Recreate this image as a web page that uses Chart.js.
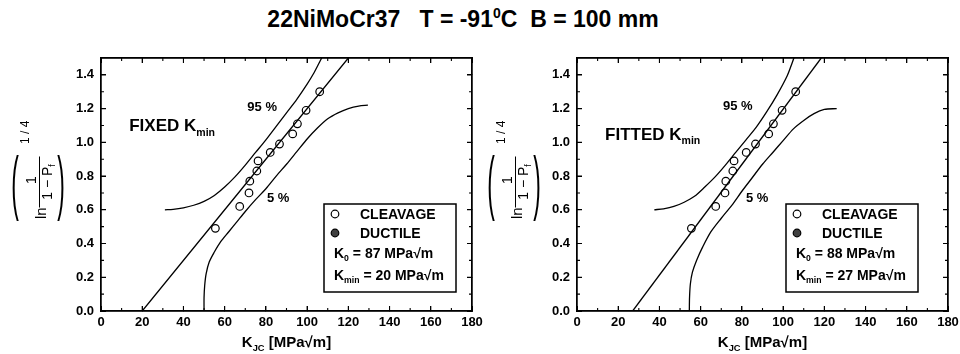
<!DOCTYPE html>
<html>
<head>
<meta charset="utf-8">
<script src="https://cdn.jsdelivr.net/npm/chart.js@4.4.1/dist/chart.umd.min.js"></script>
<style>
  html, body { margin: 0; padding: 0; background: #fff; }
  #wrap { position: relative; width: 960px; height: 354px; overflow: hidden; }
  #title { position: absolute; left: 0; top: 6px; width: 926px; text-align: center;
           font: bold 23px "Liberation Sans", Arial, sans-serif; color: #000; white-space: pre; }
  #title sup { font-size: 14px; vertical-align: 9px; line-height: 0; }
  canvas { position: absolute; top: 0; }
</style>
</head>
<body>
<div id="wrap">
  <div id="title">22NiMoCr37   T = -91<sup>0</sup>C  B = 100 mm</div>
  <canvas id="fixed" width="500" height="354" style="left:0"></canvas>
  <canvas id="fitted" width="480" height="354" style="left:480px"></canvas>
</div>
<script>
// test results, same in both panels
const cleavageK = [55.5, 67.3, 71.8, 72.2, 75.6, 76.2, 82.1, 86.6, 93.0, 95.3, 99.5, 106.1];
const cleavageY = [0.49, 0.62, 0.70, 0.77, 0.83, 0.89, 0.94, 0.99, 1.05, 1.11, 1.19, 1.30];

// FIXED Kmin panel
const fixedFitK = [20, 120];
const fixedFitY = [0, 1.5];
const fixedUpperK = [31, 35, 40, 45, 50, 55, 60, 65, 70, 75, 80, 85, 90, 95, 100, 103, 106, 107.5];
const fixedUpperY = [0.600, 0.603, 0.612, 0.627, 0.650, 0.685, 0.735, 0.795, 0.865, 0.940, 1.015, 1.095, 1.175, 1.255, 1.345, 1.405, 1.475, 1.51];
const fixedLowerK = [50, 50, 50.3, 51, 52.5, 55, 58, 62, 66, 70, 75, 80, 85, 90, 95, 100, 105, 110, 115, 120, 125, 129.5];
const fixedLowerY = [0, 0.08, 0.15, 0.22, 0.29, 0.35, 0.41, 0.47, 0.53, 0.59, 0.66, 0.725, 0.80, 0.87, 0.945, 1.02, 1.085, 1.14, 1.175, 1.20, 1.215, 1.22];

// FITTED Kmin panel
const fittedFitK = [27, 118.5];
const fittedFitY = [0, 1.5];
const fittedUpperK = [37.5, 42, 47, 52, 57, 62, 67, 72, 77, 82, 87, 92, 97, 102, 104.5, 105.5];
const fittedUpperY = [0.600, 0.606, 0.620, 0.645, 0.680, 0.735, 0.795, 0.865, 0.940, 1.015, 1.090, 1.180, 1.280, 1.395, 1.475, 1.51];
const fittedLowerK = [54.5, 54.6, 55, 56, 58, 61, 65, 70, 75, 80, 85, 90, 95, 100, 105, 110, 115, 120, 126];
const fittedLowerY = [0, 0.08, 0.16, 0.23, 0.30, 0.38, 0.47, 0.55, 0.625, 0.71, 0.79, 0.87, 0.94, 1.01, 1.08, 1.13, 1.17, 1.195, 1.20];

// axes
const xTicks = [0, 20, 40, 60, 80, 100, 120, 140, 160, 180];
const xMinor = [10, 30, 50, 70, 90, 110, 130, 150, 170];
const yTicks = [0.0, 0.2, 0.4, 0.6, 0.8, 1.0, 1.2, 1.4];
const yMinor = [0.1, 0.3, 0.5, 0.7, 0.9, 1.1, 1.3];

const FONT = '"Liberation Sans", Arial, Helvetica, sans-serif';

function pairs(xs, ys) {
    return xs.map((v, i) => ({ x: v, y: ys[i] }));
}

// draws text pieces left to right, 'sub' pieces smaller and lowered
function drawRuns(ctx, x, y, parts, size, weight, align) {
    const fontFor = p => weight + ' ' + (p[1] ? size * 0.62 : size) + 'px ' + FONT;
    let w = 0;
    parts.forEach(p => { ctx.font = fontFor(p); w += ctx.measureText(p[0]).width; });
    let cx = align === 'center' ? x - w / 2 : x;
    ctx.textAlign = 'left';
    parts.forEach(p => {
        ctx.font = fontFor(p);
        const dy = p[1] === 'sub' ? size * 0.24 : 0;
        ctx.fillText(p[0], cx, y + dy);
        cx += ctx.measureText(p[0]).width;
    });
}

function drawYTitle(ctx, cx, cy) {
    ctx.save();
    ctx.fillStyle = '#000';
    ctx.strokeStyle = '#000';
    ctx.textBaseline = 'alphabetic';
    ctx.textAlign = 'center';
    ctx.font = '71px ' + FONT;
    [['(', -23], [')', 23]].forEach(([ch, dx]) => {
        ctx.save();
        ctx.translate(cx + dx, cy + 18);
        ctx.scale(0.32, 1);
        ctx.fillText(ch, 0, 0);
        ctx.restore();
    });
    ctx.translate(cx, cy);
    ctx.rotate(-Math.PI / 2);
    ctx.textAlign = 'left';
    ctx.font = '15px ' + FONT;
    ctx.fillText('ln', -31, 8);
    ctx.beginPath();
    ctx.moveTo(-19.5, 1.5);
    ctx.lineTo(31.5, 1.5);
    ctx.lineWidth = 1;
    ctx.stroke();
    ctx.textAlign = 'center';
    ctx.font = '14px ' + FONT;
    ctx.fillText('1', 8, -2);
    drawRuns(ctx, 6, 14, [['1 \u2212 P', ''], ['f', 'sub']], 14, 'normal', 'center');
    ctx.textAlign = 'left';
    ctx.font = '12px ' + FONT;
    ctx.fillText('1 / 4', 44, -9);
    ctx.restore();
}

// frame plus minor ticks, on top of the native borders
function drawFrame(ctx, chart) {
    const a = chart.chartArea;
    const sx = chart.scales.x, sy = chart.scales.y;
    ctx.save();
    ctx.strokeStyle = '#000';
    ctx.lineWidth = 1.2;
    ctx.strokeRect(a.left, a.top, a.right - a.left, a.bottom - a.top);
    ctx.lineWidth = 1.1;
    ctx.beginPath();
    const xt = (v, len) => {
        const p = sx.getPixelForValue(v);
        ctx.moveTo(p, a.bottom); ctx.lineTo(p, a.bottom - len);
        ctx.moveTo(p, a.top); ctx.lineTo(p, a.top + len);
    };
    const yt = (v, len) => {
        const p = sy.getPixelForValue(v);
        ctx.moveTo(a.left, p); ctx.lineTo(a.left + len, p);
        ctx.moveTo(a.right, p); ctx.lineTo(a.right - len, p);
    };
    xTicks.forEach(v => xt(v, 5));
    xMinor.forEach(v => xt(v, 3));
    yTicks.forEach(v => yt(v, 5));
    yMinor.forEach(v => yt(v, 3));
    ctx.stroke();
    ctx.restore();
}

const deco = {
    id: 'deco',
    afterDraw(chart, args, o) {
        const { ctx, chartArea: a } = chart;
        const sx = chart.scales.x, sy = chart.scales.y;
        ctx.save();
        ctx.fillStyle = '#000';
        ctx.strokeStyle = '#000';
        ctx.textBaseline = 'alphabetic';

        // labels inside the plot
        drawRuns(ctx, sx.getPixelForValue(o.methodAt[0]), sy.getPixelForValue(o.methodAt[1]) + 6,
            [[o.method + ' K', ''], ['min', 'sub']], 17, 'bold');
        drawRuns(ctx, sx.getPixelForValue(o.p95At[0]), sy.getPixelForValue(o.p95At[1]) + 4.5,
            [['95 %', '']], 13, 'bold');
        drawRuns(ctx, sx.getPixelForValue(o.p5At[0]), sy.getPixelForValue(o.p5At[1]) + 4.5,
            [['5 %', '']], 13, 'bold');

        // legend box
        const bx = a.left + o.boxLeft, by = a.top + 146;
        ctx.fillStyle = '#fff';
        ctx.fillRect(bx, by, 132, 88);
        ctx.lineWidth = 1.5;
        ctx.strokeRect(bx, by, 132, 88);
        ctx.lineWidth = 1.2;
        ctx.beginPath();
        ctx.arc(bx + 11, by + 10, 3.8, 0, Math.PI * 2);
        ctx.stroke();
        ctx.beginPath();
        ctx.arc(bx + 11, by + 29, 3.8, 0, Math.PI * 2);
        ctx.fillStyle = '#404040';
        ctx.fill();
        ctx.stroke();
        ctx.fillStyle = '#000';
        drawRuns(ctx, bx + 36, by + 15, [['CLEAVAGE', '']], 14, 'bold');
        drawRuns(ctx, bx + 36, by + 34, [['DUCTILE', '']], 14, 'bold');
        drawRuns(ctx, bx + 10, by + 54, [['K', ''], ['0', 'sub'], [' = ' + o.k0 + ' MPa\u221Am', '']], 14, 'bold');
        drawRuns(ctx, bx + 10, by + 76, [['K', ''], ['min', 'sub'], [' = ' + o.kmin + ' MPa\u221Am', '']], 14, 'bold');

        // axis titles
        drawRuns(ctx, (a.left + a.right) / 2, 347, [['K', ''], ['JC', 'sub'], [' [MPa\u221Am]', '']], 15, 'bold', 'center');
        drawYTitle(ctx, a.left - 63, a.top + 130);
        ctx.restore();

        drawFrame(ctx, chart);
    }
};

function curve(label, xs, ys) {
    return {
        label: label,
        data: pairs(xs, ys),
        showLine: true,
        pointRadius: 0,
        pointHoverRadius: 0,
        borderColor: '#000',
        borderWidth: 1.3,
        tension: 0.3
    };
}

// native frame side: border plus inward major ticks
function side(position, min, max, ticks, size) {
    const horizontal = position === 'bottom' || position === 'top';
    return {
        type: 'linear', position: position, min: min, max: max,
        grid: { display: true, drawOnChartArea: false, drawTicks: true, tickLength: -5, color: '#000', lineWidth: 1 },
        border: { display: true, color: '#000', width: 1.4 },
        ticks: { display: false },
        afterBuildTicks: s => { s.ticks = ticks.map(v => ({ value: v })); },
        afterFit: s => {
            if (horizontal) s.height = size; else s.width = size;
            s.paddingLeft = 0; s.paddingRight = 0; s.paddingTop = 0; s.paddingBottom = 0;
        }
    };
}

function makeChart(id, p) {
    const tickFont = { family: FONT, size: 13, weight: 'bold' };
    const x = side('bottom', 0, 180, xTicks, 43);
    x.ticks = { display: true, font: tickFont, color: '#000', padding: 9, maxRotation: 0, autoSkip: false };
    const y = side('left', 0, 1.5, yTicks, p.yWidth);
    y.ticks = { display: true, font: tickFont, color: '#000', padding: 12, callback: v => v.toFixed(1) };
    return new Chart(document.getElementById(id), {
        type: 'scatter',
        data: {
            datasets: [
                {
                    label: 'CLEAVAGE',
                    data: pairs(cleavageK, cleavageY),
                    pointRadius: 3.8,
                    pointBorderWidth: 1.2,
                    pointBorderColor: '#000',
                    pointBackgroundColor: 'rgba(255,255,255,0)'
                },
                curve('fit', p.fitK, p.fitY),
                curve('95 %', p.upK, p.upY),
                curve('5 %', p.loK, p.loY)
            ]
        },
        options: {
            responsive: false,
            animation: false,
            devicePixelRatio: 1,
            events: [],
            layout: { padding: { top: 58, right: p.padRight, bottom: 0, left: 0 } },
            plugins: {
                legend: { display: false },
                tooltip: { enabled: false },
                deco: p.deco
            },
            scales: {
                x: x,
                y: y,
                x2: side('top', 0, 180, xTicks, 0),
                y2: side('right', 0, 1.5, yTicks, 0)
            }
        },
        plugins: [deco]
    });
}

makeChart('fixed', {
    fitK: fixedFitK, fitY: fixedFitY,
    upK: fixedUpperK, upY: fixedUpperY,
    loK: fixedLowerK, loY: fixedLowerY,
    padRight: 28, yWidth: 101,
    deco: { method: 'FIXED', methodAt: [13.7, 1.10], p95At: [71, 1.21], p5At: [80.5, 0.67],
            boxLeft: 223, k0: 87, kmin: 20 }
});

makeChart('fitted', {
    fitK: fittedFitK, fitY: fittedFitY,
    upK: fittedUpperK, upY: fittedUpperY,
    loK: fittedLowerK, loY: fittedLowerY,
    padRight: 12, yWidth: 97,
    deco: { method: 'FITTED', methodAt: [13.6, 1.05], p95At: [70.8, 1.22], p5At: [82, 0.67],
            boxLeft: 209, k0: 88, kmin: 27 }
});
</script>
</body>
</html>
